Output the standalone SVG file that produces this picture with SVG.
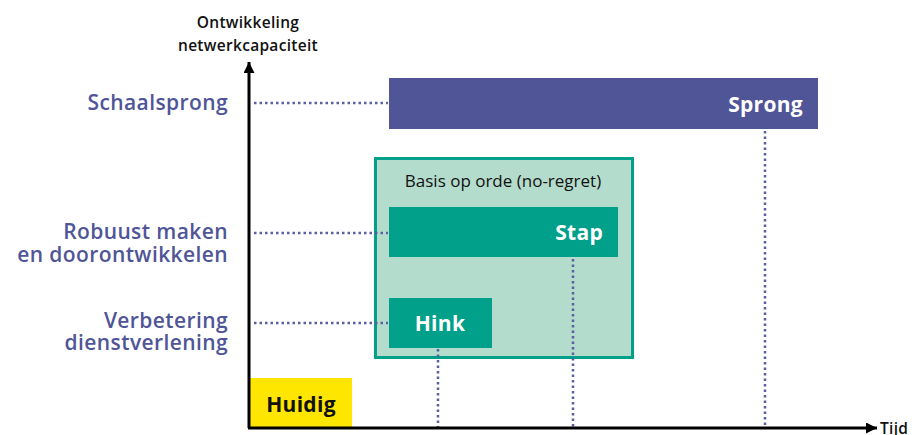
<svg xmlns="http://www.w3.org/2000/svg" width="914" height="435" viewBox="0 0 914 435">
<style>
.lbl{font-family:"Open Sans","Noto Sans",sans-serif;font-size:21px;font-weight:600;letter-spacing:0.4px;fill:#4f5597;text-anchor:end}
.ax{font-family:"Open Sans","Noto Sans",sans-serif;font-size:15.5px;font-weight:600;letter-spacing:0.3px;fill:#111}
.box{font-family:"Open Sans","Noto Sans",sans-serif;font-size:21px;font-weight:700;letter-spacing:0.3px;fill:#fff}
.dot{stroke:#5a5fa0;stroke-width:2.5;stroke-dasharray:2.5 3;fill:none}
</style>
<defs>
<marker id="ah" viewBox="0 0 10 10" refX="10" refY="5" markerWidth="11" markerHeight="11" markerUnits="userSpaceOnUse" orient="auto">
<path d="M0,0 L10,5 L0,10 Z" fill="#000"/>
</marker>
</defs>
<rect width="914" height="435" fill="#fff"/>
<g id="basis">
<rect x="375.5" y="158.5" width="257" height="199" fill="#b4dccc" stroke="#00a08a" stroke-width="3"/>
<text x="503" y="187" class="ax" style="font-size:17px;font-weight:400;letter-spacing:0;text-anchor:middle">Basis op orde (no-regret)</text>
</g>
<g id="connectors">
<line x1="254" y1="103" x2="388" y2="103" class="dot"/>
<line x1="254" y1="233" x2="388" y2="233" class="dot"/>
<line x1="254" y1="323" x2="388" y2="323" class="dot"/>
<line x1="438" y1="349" x2="438" y2="427" class="dot"/>
<line x1="573" y1="259" x2="573" y2="427" class="dot"/>
<line x1="765" y1="131" x2="765" y2="427" class="dot"/>
</g>
<g id="sprong">
<rect x="389" y="78" width="429" height="51" fill="#4f5597"/>
<text x="803" y="112" class="box" style="text-anchor:end">Sprong</text>
</g>
<g id="stap">
<rect x="389" y="207" width="229" height="50" fill="#00a08a"/>
<text x="603" y="240" class="box" style="text-anchor:end">Stap</text>
</g>
<g id="hink">
<rect x="389" y="298" width="103" height="50" fill="#00a08a"/>
<text x="440" y="331" class="box" style="text-anchor:middle">Hink</text>
</g>
<g id="huidig">
<rect x="250" y="378" width="102" height="50" fill="#ffe600"/>
<text x="301" y="412" class="box" style="text-anchor:middle;fill:#111">Huidig</text>
</g>
<g id="axes">
<line x1="249" y1="428" x2="249" y2="62" stroke="#000" stroke-width="3" marker-end="url(#ah)"/>
<line x1="248" y1="428" x2="877" y2="428" stroke="#000" stroke-width="3" marker-end="url(#ah)"/>
<text x="248" y="28" class="ax" style="text-anchor:middle">Ontwikkeling</text>
<text x="248" y="51" class="ax" style="text-anchor:middle">netwerkcapaciteit</text>
<text x="880" y="434" class="ax">Tijd</text>
</g>
<g id="labels">
<text x="228" y="110" class="lbl">Schaalsprong</text>
<text x="228" y="239" class="lbl">Robuust maken</text>
<text x="228" y="262" class="lbl">en doorontwikkelen</text>
<text x="228" y="328" class="lbl">Verbetering</text>
<text x="228" y="350" class="lbl">dienstverlening</text>
</g>
</svg>
